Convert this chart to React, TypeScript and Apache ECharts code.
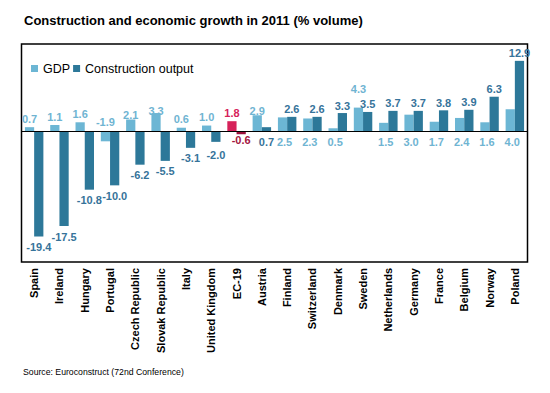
import React, { useEffect, useRef } from "react";
import * as echarts from "echarts";

const categories = [
  "Spain", "Ireland", "Hungary", "Portugal", "Czech Republic", "Slovak Republic",
  "Italy", "United Kingdom", "EC-19", "Austria", "Finland", "Switzerland",
  "Denmark", "Sweden", "Netherlands", "Germany", "France", "Belgium", "Norway", "Poland",
];
const gdp = [0.7, 1.1, 1.6, -1.9, 2.1, 3.3, 0.6, 1.0, 1.8, 2.9, 2.5, 2.3, 0.5, 4.3, 1.5, 3.0, 1.7, 2.4, 1.6, 4.0];
const construction = [-19.4, -17.5, -10.8, -10.0, -6.2, -5.5, -3.1, -2.0, -0.6, 0.7, 2.6, 2.6, 3.3, 3.5, 3.7, 3.7, 3.8, 3.9, 6.3, 12.9];
const seriesNames = ["GDP", "Construction output"];
const titleText = "Construction and economic growth in 2011 (% volume)";
const sourceText = "Source: Euroconstruct (72nd Conference)";

const FONT = "'Liberation Sans', Arial, sans-serif";
const GDP_COLOR = "#6CB6D4";
const CON_COLOR = "#2D7899";
const GDP_LABEL = "#6FB4D2";
const CON_LABEL = "#36739A";
const EC_GDP = "#D6225A";
const EC_CON = "#9A0E3A";
const EC_CON_LABEL = "#A3153F";

// label placement tweaks (styling only)
const gdpBelow = new Set(["Finland", "Switzerland", "Denmark", "Netherlands", "Germany", "France", "Belgium", "Norway", "Poland"]);
const gdpOffsets: Record<string, number[]> = {
  "Czech Republic": [0, 4],
  "Slovak Republic": [0, 6],
  Austria: [0, 4],
  Sweden: [0, -10],
};

export default function App() {
  const ref = useRef<HTMLDivElement>(null);
  useEffect(() => {
    if (!ref.current) return;
    const chart = echarts.init(ref.current, null, { renderer: "svg" });
    const fmt = (p: any) => Number(p.value).toFixed(1);

    const gdpData = gdp.map((v, i) => {
      const c = categories[i];
      const isEC = c === "EC-19";
      const below = gdpBelow.has(c);
      return {
        value: v,
        itemStyle: isEC ? { color: EC_GDP } : undefined,
        label: {
          position: below ? "bottom" : "top",
          distance: below ? 6 : 3,
          offset: below ? [2, 0] : gdpOffsets[c] || [0, 0],
          color: isEC ? EC_GDP : GDP_LABEL,
        },
      };
    });

    const conData = construction.map((v, i) => {
      const c = categories[i];
      const isEC = c === "EC-19";
      let label: any = {
        position: v < 0 ? "bottom" : "top",
        distance: v < 0 ? 5 : 2,
        color: isEC ? EC_CON_LABEL : CON_LABEL,
      };
      if (c === "Austria") label = { ...label, position: "bottom", distance: 6, offset: [0, 0] };
      if (c === "United Kingdom") label = { ...label, offset: [0, 3] };
      if (c === "EC-19") label = { ...label, distance: 0 };
      return {
        value: v,
        itemStyle: isEC ? { color: EC_CON } : undefined,
        label,
      };
    });

    const labelBase = {
      show: true,
      fontSize: 11,
      fontWeight: "bold",
      fontFamily: FONT,
      formatter: fmt,
    };

    chart.setOption({
      animation: false,
      textStyle: { fontFamily: FONT },
      title: {
        text: titleText,
        left: 24,
        top: 14,
        padding: 0,
        textStyle: { fontSize: 13, fontWeight: "bold", color: "#000", fontFamily: FONT },
      },
      legend: {
        data: seriesNames,
        left: 31,
        top: 62,
        padding: 0,
        icon: "rect",
        itemWidth: 7,
        itemHeight: 7,
        itemGap: 3,
        textStyle: { fontSize: 12.5, color: "#000", fontFamily: FONT },
      },
      grid: {
        left: 21.5,
        right: 22.5,
        top: 44,
        bottom: 131,
        show: true,
        borderColor: "#000",
        borderWidth: 1.5,
        backgroundColor: "transparent",
      },
      xAxis: {
        type: "category",
        data: categories,
        axisLine: { show: false },
        axisTick: { show: false },
        axisLabel: {
          interval: 0,
          rotate: 90,
          margin: 6,
          fontSize: 11,
          fontWeight: "bold",
          color: "#000",
          fontFamily: FONT,
        },
      },
      yAxis: {
        type: "value",
        min: -24.1,
        max: 16,
        show: false,
        splitLine: { show: false },
      },
      graphic: [
        {
          type: "text",
          left: 23,
          top: 367,
          style: { text: sourceText, fontSize: 8.7, fill: "#000", fontFamily: FONT },
        },
      ],
      series: [
        {
          name: seriesNames[0],
          type: "bar",
          data: gdpData,
          itemStyle: { color: GDP_COLOR },
          barGap: "0%",
          barCategoryGap: "27%",
          label: { ...labelBase, color: GDP_LABEL },
        },
        {
          name: seriesNames[1],
          type: "bar",
          data: conData,
          itemStyle: { color: CON_COLOR },
          barGap: "0%",
          barCategoryGap: "27%",
          label: { ...labelBase, color: CON_LABEL },
          markLine: {
            silent: true,
            symbol: ["none", "none"],
            label: { show: false },
            lineStyle: { color: "#000", width: 1.2, type: "solid" },
            data: [{ yAxis: 0 }],
          },
        },
      ],
    });
    return () => chart.dispose();
  }, []);

  return (
    <div
      ref={ref}
      style={{ position: "absolute", left: 0, top: 0, width: 550, height: 393, background: "#fff" }}
    />
  );
}
